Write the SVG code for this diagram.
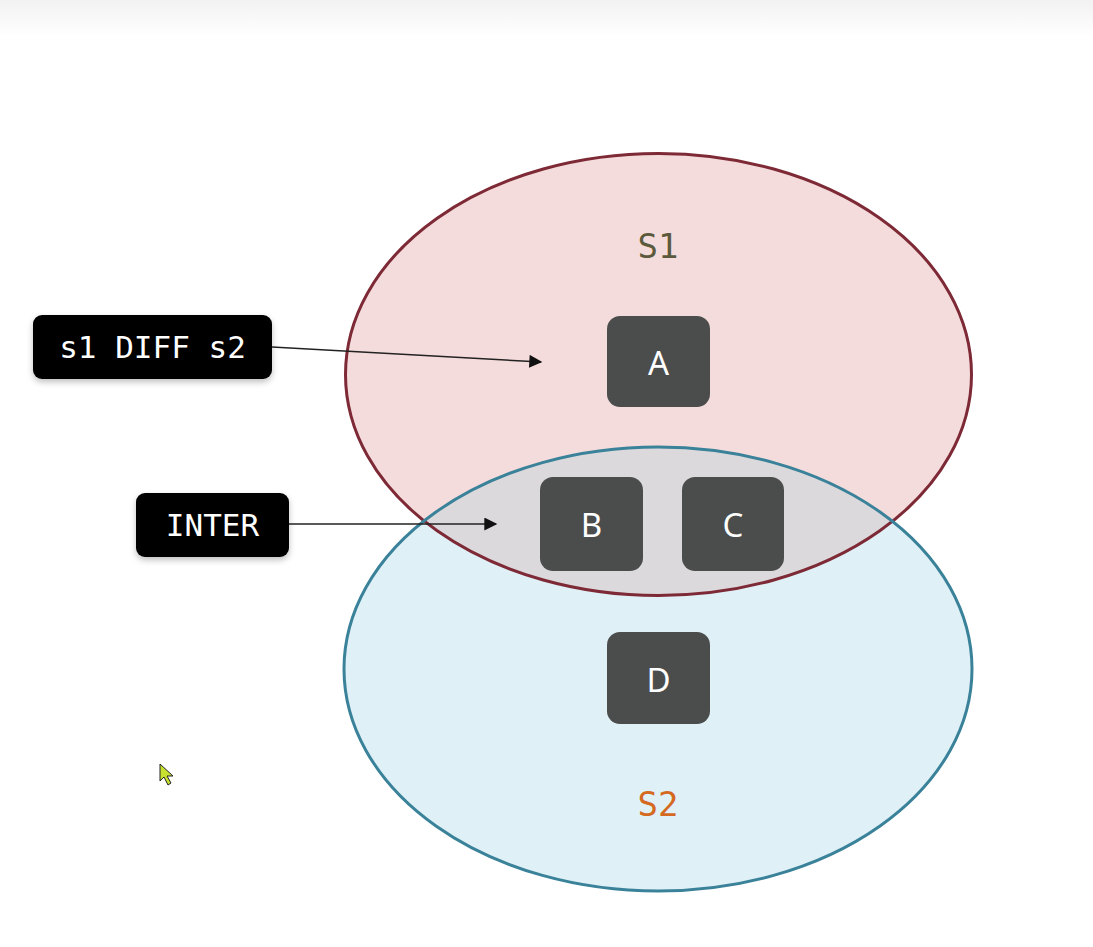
<svg xmlns="http://www.w3.org/2000/svg" width="1093" height="947" viewBox="0 0 1093 947">
<style>
.node rect{fill:#4a4d4c}
.node text{fill:#ffffff;font-family:"Noto Sans","Open Sans",sans-serif;font-size:33px;text-anchor:middle;dominant-baseline:central}
.lbl rect{fill:#000000}
.lbl text{fill:#ffffff;font-family:"DejaVu Sans Mono","Liberation Mono",monospace;font-size:31px;text-anchor:middle;dominant-baseline:central}
.set{font-family:"DejaVu Sans Mono","Liberation Mono",monospace;font-size:34px;text-anchor:middle;dominant-baseline:central}
.conn line{stroke:#222;stroke-width:1.5;fill:none}
</style>
<defs>
<linearGradient id="top" x1="0" y1="0" x2="0" y2="1">
<stop offset="0" stop-color="#f2f2f2"/>
<stop offset="1" stop-color="#ffffff"/>
</linearGradient>
<clipPath id="c1"><ellipse cx="658.5" cy="374.5" rx="313" ry="221"/></clipPath>
<marker id="ah" viewBox="0 0 10 10" refX="9" refY="5" markerWidth="14" markerHeight="13" markerUnits="userSpaceOnUse" orient="auto">
<path d="M0,0 L10,5 L0,10 Z" fill="#111"/>
</marker>
<filter id="sh" x="-10%" y="-10%" width="120%" height="140%"><feDropShadow dx="0" dy="3" stdDeviation="3" flood-color="#000" flood-opacity="0.25"/></filter>
</defs>
<rect width="1093" height="947" fill="#ffffff"/>
<rect width="1093" height="36" fill="url(#top)"/>
<g id="S2">
<ellipse cx="658" cy="669" rx="314" ry="222" fill="#dff0f6"/>
</g>
<g id="S1">
<ellipse cx="658.5" cy="374.5" rx="313" ry="221" fill="#f5dcdc"/>
</g>
<g id="intersection">
<ellipse cx="658" cy="669" rx="314" ry="222" fill="#dcd9dc" clip-path="url(#c1)"/>
</g>
<g id="outlines" fill="none" stroke-width="3">
<ellipse cx="658.5" cy="374.5" rx="313" ry="221" stroke="#7d2a36"/>
<ellipse cx="658" cy="669" rx="314" ry="222" stroke="#3a8299"/>
</g>
<text class="set" x="658" y="246" fill="#5c5a3c">S1</text>
<text class="set" x="658" y="804" fill="#d4691f">S2</text>
<g id="A" class="node"><rect x="607" y="316" width="103" height="91" rx="13"/><text x="658.5" y="362">A</text></g>
<g id="B" class="node"><rect x="540" y="477" width="103" height="94" rx="13"/><text x="591.5" y="524">B</text></g>
<g id="C" class="node"><rect x="682" y="477" width="102" height="94" rx="13"/><text x="733" y="524">C</text></g>
<g id="D" class="node"><rect x="607" y="632" width="103" height="92" rx="13"/><text x="658.5" y="679">D</text></g>
<g id="diff" class="lbl"><rect x="33" y="315" width="239" height="64" rx="9" filter="url(#sh)"/><text x="152.5" y="347">s1 DIFF s2</text></g>
<g id="inter" class="lbl"><rect x="136" y="493" width="153" height="64" rx="9" filter="url(#sh)"/><text x="212.5" y="525">INTER</text></g>
<g id="connectors" class="conn">
<line x1="272" y1="347" x2="541" y2="362" marker-end="url(#ah)"/>
<line x1="289" y1="524" x2="496" y2="524" marker-end="url(#ah)"/>
</g>
<path d="M160,764 L160,781 L164,777 L168,785 L171,783 L167,776 L173,776 Z" fill="#c8e030" stroke="#222" stroke-width="1"/>
</svg>
